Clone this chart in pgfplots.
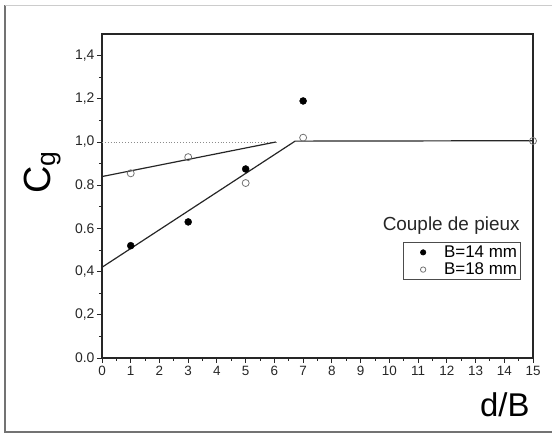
\documentclass[border=0pt]{standalone}
\usepackage{pgfplots}
\pgfplotsset{compat=1.18}
\usepackage{fontspec}
\setmainfont{Liberation Sans}
\begin{document}
\begin{tikzpicture}
\path[use as bounding box] (0,0) rectangle (552bp,437bp);
\draw[black!55,line width=1.2bp] (5bp,432bp) -- (5bp,5bp) -- (552bp,5bp);
\draw[black!20,line width=0.8bp] (5bp,432bp) -- (552bp,432bp);
\begin{axis}[
  at={(102bp,79bp)}, anchor=south west,
  scale only axis, width=431bp, height=324bp,
  xmin=0, xmax=15, ymin=0, ymax=1.5,
  xtick={0,1,2,3,4,5,6,7,8,9,10,11,12,13,14,15},
  minor x tick num=1,
  ytick={0,0.2,0.4,0.6,0.8,1.0,1.2,1.4},
  yticklabels={{0.0},{0,2},{0,4},{0.6},{0.8},{1,0},{1,2},{1,4}},
  minor y tick num=1,
  xtick pos=bottom, ytick pos=left,
  tick align=outside,
  major tick length=5bp, minor tick length=3bp,
  axis line style={line width=1.2bp,black!85},
  every tick/.style={black!85,line width=0.9bp},
  /pgf/number format/assume math mode=true,
  xticklabel style={font=\fontsize{13.5}{14}\selectfont, text=black!85},
  yticklabel style={font=\fontsize{14}{14}\selectfont, text=black!85, xshift=1bp},
  xlabel={d/B},
  xlabel style={at={(axis description cs:1,-0.182)}, anchor=base east, font=\fontsize{33}{33}\selectfont},
  ylabel={C\textsubscript{g}},
  ylabel style={at={(axis description cs:-0.1206,0.497)}, anchor=base west, font=\fontsize{38}{38}\selectfont},
  legend style={at={(axis description cs:0.698,0.358)}, anchor=north west,
    draw=black!70, line width=0.6bp, font=\fontsize{17}{17}\selectfont,
    row sep=0bp, inner xsep=1bp, inner ysep=1.5bp},
  legend cell align=left,
  legend image code/.code={\path[draw=none] (0bp,0bp) -- (38bp,0bp); \draw[#1, mark size=2.7bp] plot[only marks] coordinates {(19bp,0bp)};},
]
\addplot[black!45, dotted, line width=0.9bp, forget plot] coordinates {(0,0.998) (6.05,0.998)};
\addplot[black!85, line width=1.2bp, forget plot] coordinates {(0,0.84) (6.05,1.0)};
\addplot[black!85, line width=1.2bp, forget plot] coordinates {(0,0.42) (6.72,1.004) (15,1.006)};
\addplot[only marks, mark=*, mark size=3.5bp, black, mark options={fill=black}] coordinates {
  (1,0.52) (3,0.63) (5,0.875) (7,1.19)};
\addlegendentry{B=14 mm}
\addplot[only marks, mark=o, mark size=3.5bp, black!55, mark options={line width=0.8bp}] coordinates {
  (1,0.855) (3,0.93) (5,0.81) (7,1.02) (15,1.005)};
\addlegendentry{B=18 mm}
\node[anchor=base east, font=\fontsize{19}{19}\selectfont, text=black!85] at (axis description cs:0.977,0.395) {Couple de pieux};
\end{axis}
\end{tikzpicture}
\end{document}
